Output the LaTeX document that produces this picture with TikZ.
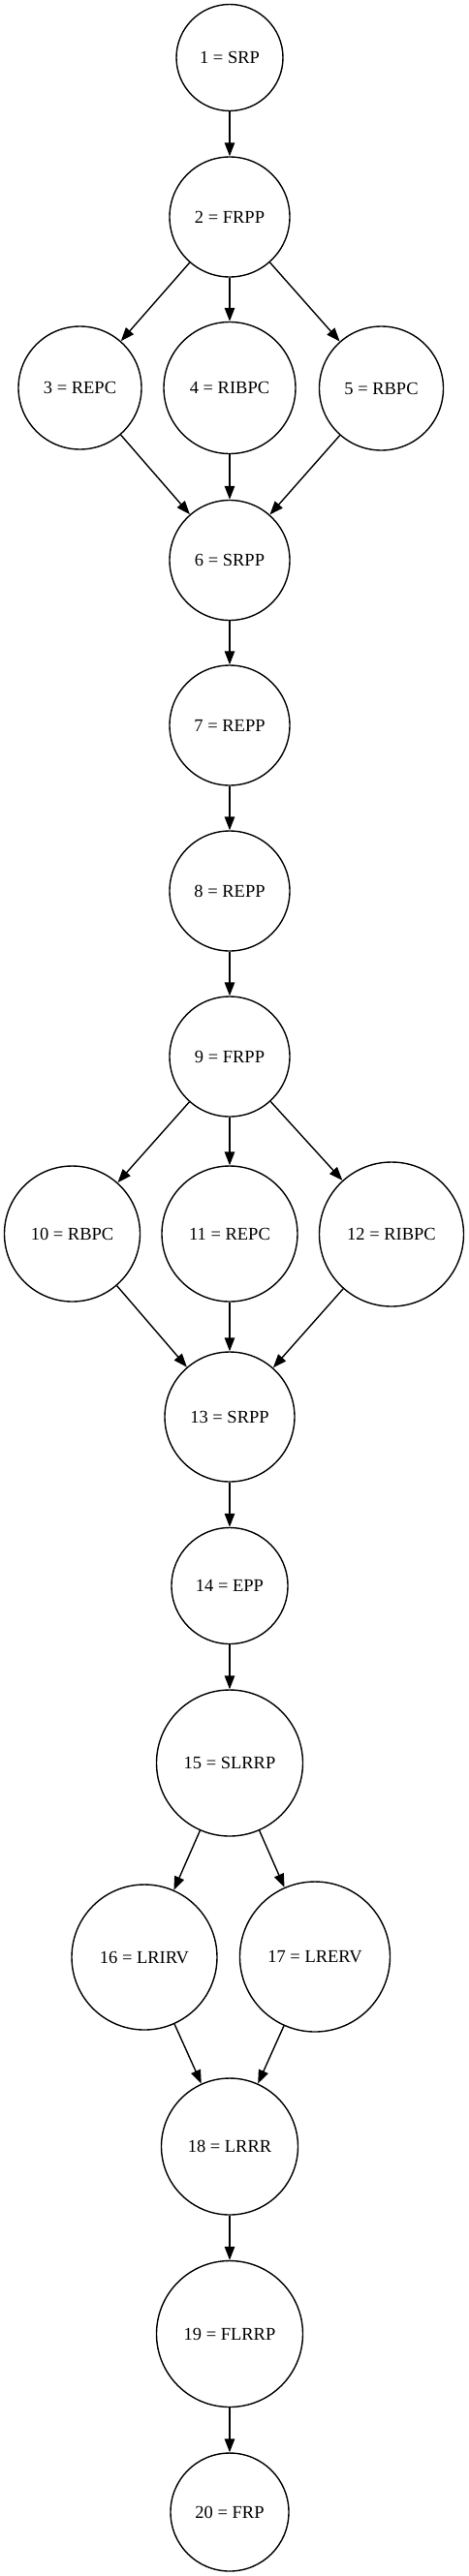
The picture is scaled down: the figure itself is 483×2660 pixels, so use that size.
\documentclass[tikz,border=0pt]{standalone}
\usepackage{fontspec}
\setmainfont{Liberation Serif}
\usetikzlibrary{arrows.meta}
\begin{document}
\begin{tikzpicture}[x=1pt,y=-1pt,
  statenode/.style={circle,draw=black,line width=1.4pt,inner sep=0pt,
    font=\fontsize{18.5pt}{20pt}\selectfont},
  conn/.style={line width=1.4pt,-{Triangle[length=14pt,width=10.5pt]}}]
\useasboundingbox[fill=white] (0,0) rectangle (483,2660);
\node[statenode,minimum size=110pt] (n1) at (237,59.5) {1 = SRP};
\node[statenode,minimum size=124pt] (n2) at (237,224) {2 = FRPP};
\node[statenode,minimum size=127pt] (n3) at (82.5,400.5) {3 = REPC};
\node[statenode,minimum size=136pt] (n4) at (237,400.5) {4 = RIBPC};
\node[statenode,minimum size=128pt] (n5) at (393.5,401) {5 = RBPC};
\node[statenode,minimum size=124pt] (n6) at (237,578.5) {6 = SRPP};
\node[statenode,minimum size=124pt] (n7) at (237,749) {7 = REPP};
\node[statenode,minimum size=124pt] (n8) at (237,920) {8 = REPP};
\node[statenode,minimum size=124pt] (n9) at (237,1091) {9 = FRPP};
\node[statenode,minimum size=140pt] (n10) at (74.5,1274) {10 = RBPC};
\node[statenode,minimum size=140pt] (n11) at (237,1274) {11 = REPC};
\node[statenode,minimum size=149pt] (n12) at (404,1274.5) {12 = RIBPC};
\node[statenode,minimum size=134pt] (n13) at (237,1463) {13 = SRPP};
\node[statenode,minimum size=120pt] (n14) at (237,1637.5) {14 = EPP};
\node[statenode,minimum size=151pt] (n15) at (237,1820.5) {15 = SLRRP};
\node[statenode,minimum size=150pt] (n16) at (149,2021) {16 = LRIRV};
\node[statenode,minimum size=155pt] (n17) at (325,2020.5) {17 = LRERV};
\node[statenode,minimum size=141pt] (n18) at (237,2216.5) {18 = LRRR};
\node[statenode,minimum size=151pt] (n19) at (237,2410) {19 = FLRRP};
\node[statenode,minimum size=122pt] (n20) at (237,2594) {20 = FRP};
\draw[conn] (n1) -- (n2);
\draw[conn] (n2) -- (n3);
\draw[conn] (n2) -- (n4);
\draw[conn] (n2) -- (n5);
\draw[conn] (n3) -- (n6);
\draw[conn] (n4) -- (n6);
\draw[conn] (n5) -- (n6);
\draw[conn] (n6) -- (n7);
\draw[conn] (n7) -- (n8);
\draw[conn] (n8) -- (n9);
\draw[conn] (n9) -- (n10);
\draw[conn] (n9) -- (n11);
\draw[conn] (n9) -- (n12);
\draw[conn] (n10) -- (n13);
\draw[conn] (n11) -- (n13);
\draw[conn] (n12) -- (n13);
\draw[conn] (n13) -- (n14);
\draw[conn] (n14) -- (n15);
\draw[conn] (n15) -- (n16);
\draw[conn] (n15) -- (n17);
\draw[conn] (n16) -- (n18);
\draw[conn] (n17) -- (n18);
\draw[conn] (n18) -- (n19);
\draw[conn] (n19) -- (n20);
\end{tikzpicture}
\end{document}
